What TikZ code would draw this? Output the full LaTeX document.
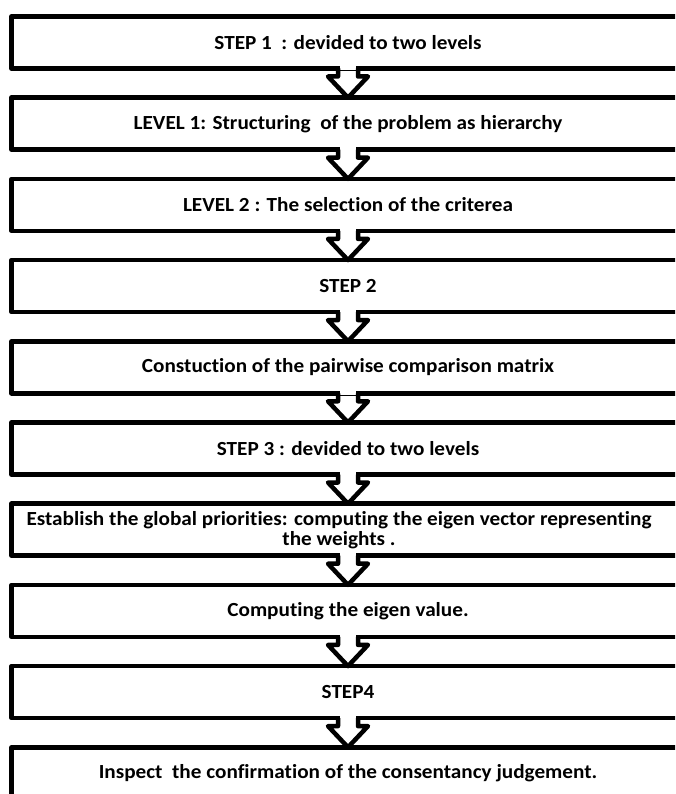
\documentclass[tikz,border=0pt]{standalone}
\usepackage{fontspec}
\setmainfont{Carlito}[FakeStretch=1.06, Ligatures=NoCommon]
\usetikzlibrary{positioning,calc}

\tikzset{
  stepbox/.style={draw, line width=4.5pt, line join=round, minimum width=673pt,
    minimum height=52pt, inner sep=0pt, outer sep=0pt, align=center,
    font=\bfseries\fontsize{20}{20}\selectfont},
  flowarrow/.style={line width=4.5pt, line join=round}
}

\begin{document}
\begin{tikzpicture}[x=1pt,y=1pt,node distance=29.2pt]
  \useasboundingbox (0,0) rectangle (675,-794);
  \clip (0,0) rectangle (675,-794);

  % Draw the boxes
  \node[stepbox] (stepone) at (348,-42.5) {STEP 1~~: devided to two levels};
  \node[stepbox, below=of stepone] (levelone) {LEVEL 1: Structuring~~of the problem as hierarchy};
  \node[stepbox, below=of levelone] (leveltwo) {LEVEL 2 : The selection of the criterea};
  \node[stepbox, below=of leveltwo] (steptwo) {STEP 2};
  \node[stepbox, below=of steptwo] (pairwise) {Constuction of the pairwise comparison matrix};
  \node[stepbox, below=of pairwise] (stepthree) {STEP 3 : devided to two levels};
  \node[stepbox, below=of stepthree] (priorities) {Establish the global priorities: computing the eigen vector representing\hspace*{18pt}\\
    the weights .\hspace*{18pt}};
  \node[stepbox, below=of priorities] (eigenvalue) {Computing the eigen value.};
  \node[stepbox, below=of eigenvalue] (stepfour) {STEP4};
  \node[stepbox, below=of stepfour] (inspect) {Inspect~~the confirmation of the consentancy judgement.};

  % Draw the block arrows between the boxes
  \foreach \a/\b in {stepone/levelone, levelone/leveltwo, leveltwo/steptwo,
      steptwo/pairwise, pairwise/stepthree, stepthree/priorities,
      priorities/eigenvalue, eigenvalue/stepfour, stepfour/inspect}{
    \fill[white] ($(\a.south)+(-7.75,3)$) rectangle ($(\a.south)+(7.75,-2)$);
    \draw[flowarrow] ($(\a.south)+(-10,0)$) -- ++(0,-8) -- ++(-10,0) -- (\b.north)
      -- ($(\a.south)+(20,-8)$) -- ++(-10,0) -- ++(0,8);
  }
\end{tikzpicture}
\end{document}
